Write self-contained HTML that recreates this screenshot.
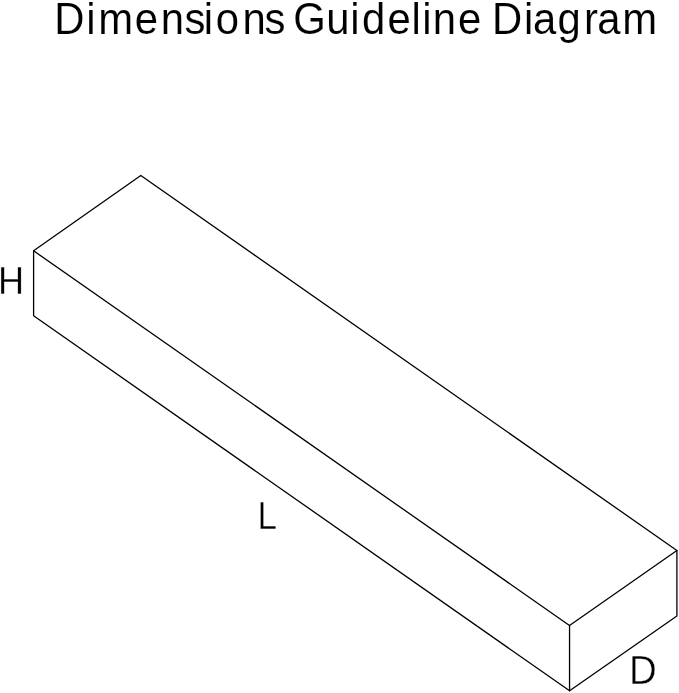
<!DOCTYPE html>
<html lang="en">
<head>
<meta charset="utf-8">
<title>Dimensions Guideline Diagram</title>
<style>
  html, body { margin: 0; padding: 0; background: #fff; }
  body { width: 679px; height: 693px; overflow: hidden; position: relative;
         font-family: "Liberation Sans", sans-serif; color: #111; }
  svg { position: absolute; left: 0; top: 0; display: block; will-change: transform; }
  text { font-family: "Liberation Sans", sans-serif; fill: #000; }
</style>
</head>
<body>
<svg width="679" height="693" viewBox="0 0 679 693">
  <rect width="679" height="693" fill="#ffffff"/>
  <g fill="none" stroke="#000" stroke-width="1.3" stroke-linejoin="round" stroke-linecap="round">
    <path d="M33.6 250.8 L140.8 175.5 L676.9 550.5 L569.5 625.5 Z"/>
    <path d="M33.6 250.8 L33.6 315.7 L569.6 690.8 L676.9 616 L676.9 550.5"/>
    <path d="M569.55 625.5 L569.55 690.8"/>
  </g>
  <text id="title" transform="scale(0.93 1)" x="58.47 92.65 105.65 144.9 172.83 198.51 219.04 231.95 260.84 284.42 306.92 315.36 350.91 376.73 389.34 416.62 442.57 453.99 465.46 492.37 514.87 529.11 563.45 573.15 599.34 627.89 642.12 669.1" y="33.8" font-size="45" stroke="#fff" stroke-width="0.1">Dimensions Guideline Diagram</text>
  <text id="h" transform="translate(-2.07 294.2) scale(0.913 1)" font-size="39.6" stroke="#fff" stroke-width="0.4">H</text>
  <text id="l" transform="translate(257.42 528.85) scale(0.888 1)" font-size="39.6" stroke="#fff" stroke-width="0.4">L</text>
  <text id="d" transform="translate(629.05 683.85) scale(0.951 1)" font-size="40.4" stroke="#fff" stroke-width="0.4">D</text>
</svg>
</body>
</html>
